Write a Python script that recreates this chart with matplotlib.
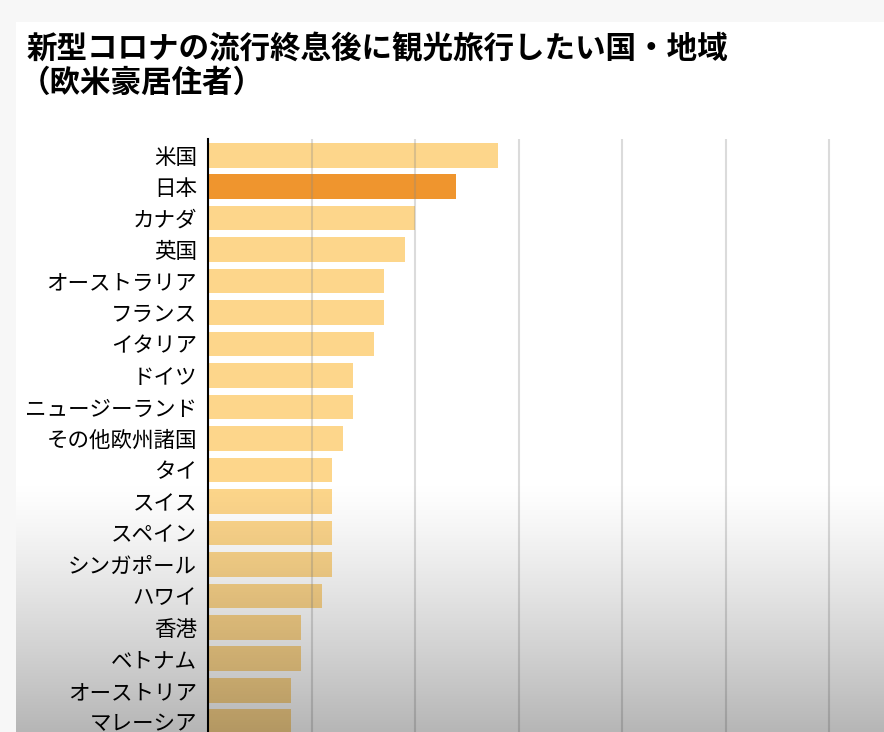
import matplotlib.pyplot as plt
import numpy as np

plt.rcParams['font.family'] = ['Noto Sans CJK JP', 'DejaVu Sans']

# 国・地域と割合(%)
countries = ["米国", "日本", "カナダ", "英国", "オーストラリア", "フランス", "イタリア",
             "ドイツ", "ニュージーランド", "その他欧州諸国", "タイ", "スイス", "スペイン",
             "シンガポール", "ハワイ", "香港", "ベトナム", "オーストリア", "マレーシア"]
values = [28, 24, 20, 19, 17, 17, 16, 14, 14, 13, 12, 12, 12, 12, 11, 9, 9, 8, 8]
highlight = "日本"

W, H = 884, 732
fig = plt.figure(figsize=(W / 100, H / 100), dpi=100)
fig.patch.set_facecolor("#f7f7f7")

# white panel
panel = fig.add_axes([16 / W, 0, 1 - 16 / W, 1 - 22 / H])
panel.set_facecolor("white")
panel.set_xticks([])
panel.set_yticks([])
for s in panel.spines.values():
    s.set_visible(False)

fig.text(27 / W, 1 - 49 / H, "新型コロナの流行終息後に観光旅行したい国・地域",
         fontsize=22, fontweight="bold", va="center", ha="left")
fig.text(20 / W, 1 - 83 / H, "（欧米豪居住者）",
         fontsize=22, fontweight="bold", va="center", ha="left")

ax = fig.add_axes([208 / W, 0, 1 - 208 / W, 1 - 139 / H])
ax.patch.set_alpha(0)
y = np.arange(len(countries))
colors = ["#ef952e" if c == highlight else "#fdd68b" for c in countries]
ax.barh(y, values, height=0.79, color=colors, zorder=2)
ax.set_xlim(0, 65.3)
ax.set_ylim(18.32, -0.51)
ax.set_yticks(y)
ax.set_yticklabels(countries, fontsize=15.5)
ax.tick_params(axis="y", length=0, pad=8)
ax.set_xticks(np.arange(10, 61, 10))
ax.tick_params(axis="x", length=0, labelbottom=False)
ax.grid(axis="x", color="#888888", alpha=0.3, linewidth=1.5, zorder=3)
ax.set_axisbelow(False)
for k in ["top", "right", "bottom"]:
    ax.spines[k].set_visible(False)
ax.spines["left"].set_linewidth(1.5)
ax.spines["left"].set_zorder(4)

# dark gradient near the bottom (video overlay)
ov = fig.add_axes([16 / W, 0, 1 - 16 / W, 1 - 22 / H], zorder=10)
ov.patch.set_alpha(0)
ov.axis("off")
n = 300
t = np.linspace(0, 1, n)  # 0 = top of panel, 1 = bottom
start = (480 - 22) / (H - 22)
a = np.clip((t - start) / (1 - start), 0, 1) ** 1.2 * 0.29
grad = np.zeros((n, 1, 4))
grad[:, 0, 3] = a
ov.imshow(grad, aspect="auto", extent=[0, 1, 0, 1], origin="upper")

fig.savefig("out.png", dpi=100)
